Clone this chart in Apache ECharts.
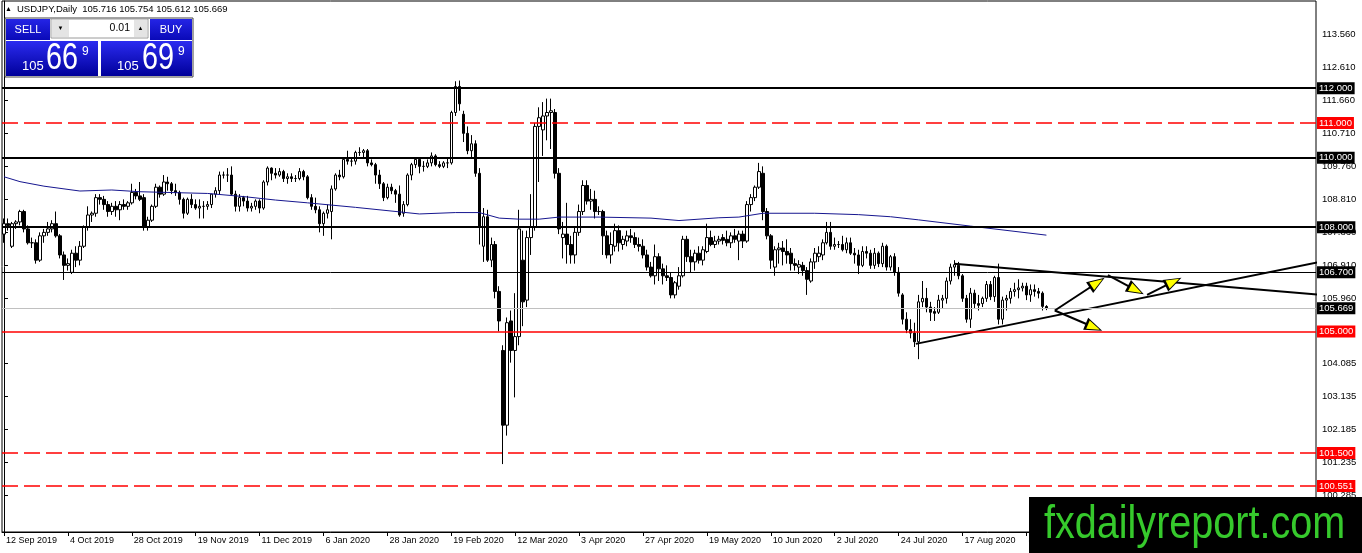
<!DOCTYPE html>
<html><head><meta charset="utf-8">
<script src="https://cdn.jsdelivr.net/npm/echarts@6/dist/echarts.min.js"></script>
<style>html,body{margin:0;padding:0;background:#fff}#c{width:1362px;height:553px}</style>
</head><body><div id="c"></div>
<script>
// ---- OHLC rows: [open, high, low, close] ----
const sep2019 = [[107.80,108.25,107.55,108.10],[108.10,108.25,107.90,108.05],[107.45,108.15,107.40,108.10],[108.10,108.20,107.95,108.15],[108.15,108.50,108.05,108.45],[108.45,108.50,107.85,107.95],[107.95,108.05,107.50,107.55],[107.55,107.70,107.40,107.55],[107.55,107.65,106.95,107.05],[107.05,107.85,107.00,107.75],[107.75,107.95,107.55,107.85],[107.85,108.15,107.75,107.95],[107.95,108.20,107.85,108.10]];
const oct2019 = [[108.10,108.45,107.70,107.75],[107.75,107.80,107.10,107.20],[107.20,107.30,106.48,106.90],[106.90,107.10,106.75,106.95],[106.70,107.35,106.65,107.25],[107.25,107.45,106.85,107.05],[107.05,107.60,106.90,107.45],[107.45,108.05,107.40,108.00],[108.00,108.60,107.90,108.35],[108.35,108.45,108.15,108.40],[108.40,108.95,108.30,108.85],[108.85,108.95,108.65,108.80],[108.80,108.90,108.50,108.65],[108.65,108.75,108.30,108.45],[108.45,108.70,108.35,108.60],[108.60,108.75,108.30,108.50],[108.50,108.75,108.20,108.65],[108.65,108.80,108.50,108.60],[108.60,108.75,108.50,108.70],[108.70,109.25,108.65,109.00],[109.00,109.10,108.80,108.90],[108.90,109.30,108.75,108.80],[108.85,108.95,107.90,108.00]];
const nov2019 = [[108.00,108.30,107.90,108.20],[108.20,108.65,108.15,108.60],[108.60,109.25,108.55,109.15],[109.15,109.20,108.85,108.95],[108.95,109.50,108.90,109.30],[109.30,109.45,109.05,109.25],[109.25,109.30,108.95,109.05],[109.05,109.25,108.90,109.00],[109.00,109.05,108.65,108.80],[108.80,108.85,108.25,108.40],[108.40,108.85,108.35,108.80],[108.80,108.95,108.55,108.65],[108.65,108.80,108.50,108.55],[108.55,108.80,108.25,108.60],[108.60,108.75,108.25,108.60],[108.60,108.75,108.50,108.65],[108.65,108.95,108.55,108.95],[108.95,109.15,108.85,109.05],[109.05,109.60,108.95,109.50],[109.50,109.60,109.40,109.50],[109.50,109.70,109.30,109.50]];
const dec2019 = [[109.50,109.75,108.90,108.95],[108.95,109.05,108.45,108.60],[108.60,108.95,108.45,108.85],[108.85,108.90,108.60,108.75],[108.75,108.90,108.45,108.55],[108.55,108.70,108.45,108.60],[108.60,108.80,108.50,108.75],[108.75,108.80,108.40,108.55],[108.55,109.35,108.50,109.30],[109.30,109.75,109.20,109.70],[109.70,109.72,109.35,109.55],[109.55,109.70,109.40,109.50],[109.50,109.70,109.45,109.60],[109.60,109.65,109.30,109.40],[109.40,109.55,109.25,109.45],[109.45,109.55,109.30,109.40],[109.40,109.50,109.30,109.40],[109.40,109.70,109.35,109.60],[109.60,109.65,109.35,109.45],[109.45,109.50,108.80,108.85],[108.85,108.95,108.50,108.60]];
const jan2020 = [[108.60,108.85,108.40,108.50],[108.50,108.60,107.85,108.10],[108.10,108.45,107.75,108.40],[108.40,108.65,108.25,108.50],[108.45,109.20,107.65,109.10],[109.10,109.55,109.05,109.50],[109.50,109.65,109.35,109.45],[109.45,110.00,109.40,109.95],[109.95,110.20,109.80,109.90],[109.90,110.00,109.75,109.90],[109.90,110.20,109.80,110.15],[110.15,110.30,110.05,110.15],[110.15,110.25,110.00,110.20],[110.20,110.25,109.75,109.85],[109.85,109.95,109.75,109.80],[109.80,109.85,109.25,109.50],[109.50,109.65,109.10,109.25],[109.25,109.30,108.75,108.85],[108.85,109.25,108.80,109.15],[109.15,109.25,108.95,109.05],[109.05,109.10,108.70,108.95],[108.95,109.20,108.30,108.35]];
const feb2020 = [[108.40,108.75,108.30,108.65],[108.65,109.55,108.60,109.50],[109.50,109.85,109.35,109.80],[109.80,110.00,109.70,109.95],[109.95,110.00,109.55,109.75],[109.75,109.90,109.60,109.75],[109.75,109.95,109.70,109.85],[109.85,110.15,109.75,110.05],[110.05,110.10,109.75,109.80],[109.80,109.90,109.70,109.75],[109.75,109.90,109.70,109.85],[109.85,110.00,109.70,109.85],[109.85,111.35,109.80,111.30],[111.30,112.20,111.20,112.05],[112.05,112.22,111.35,111.55],[111.25,111.35,110.45,110.70],[110.70,110.90,110.10,110.20],[110.20,110.65,110.00,110.40],[110.40,110.50,109.45,109.55],[109.55,109.70,107.50,108.00]];
const mar2020 = [[107.45,108.55,107.00,108.30],[108.30,108.50,107.00,107.05],[107.05,107.70,106.85,107.50],[107.50,107.60,105.95,106.15],[106.15,106.30,105.00,105.30],[104.45,104.60,101.18,102.30],[102.30,105.40,102.00,105.25],[105.30,105.60,104.10,104.45],[104.45,106.10,103.10,104.85],[104.85,108.50,104.60,107.95],[107.05,107.90,105.15,105.85],[105.90,107.90,105.70,107.70],[107.70,108.95,107.20,108.00],[108.00,111.00,107.90,110.90],[110.90,111.45,109.30,111.15],[110.80,111.60,110.05,111.20],[111.20,111.70,110.50,111.30],[111.30,111.70,110.25,111.35],[111.30,111.40,109.40,109.55],[109.55,109.70,107.80,107.95],[107.70,108.15,107.10,107.80],[107.80,108.70,106.95,107.50]];
const apr2020 = [[107.50,107.75,106.95,107.20],[107.20,108.00,106.95,107.85],[107.85,108.65,107.75,108.45],[108.45,109.35,108.35,109.20],[109.20,109.35,108.65,108.75],[108.75,109.10,108.50,108.80],[108.80,109.05,108.25,108.45],[108.45,108.60,108.35,108.45],[108.45,108.50,107.20,107.75],[107.75,107.90,107.10,107.20],[107.20,107.85,106.95,107.50],[107.45,108.10,107.30,107.90],[107.90,108.05,107.30,107.55],[107.50,107.75,107.35,107.65],[107.60,107.90,107.45,107.75],[107.75,107.95,107.55,107.70],[107.70,107.85,107.40,107.50],[107.50,107.70,107.30,107.45],[107.45,107.65,107.10,107.20],[107.20,107.35,106.75,106.85],[106.85,107.00,106.55,106.60],[106.60,107.50,106.35,107.15]];
const may2020 = [[107.15,107.25,106.45,106.80],[106.80,106.95,106.35,106.60],[106.60,106.90,106.45,106.55],[106.55,106.70,105.95,106.05],[106.05,106.45,105.95,106.40],[106.30,106.85,106.20,106.60],[106.60,107.75,106.55,107.65],[107.65,107.75,107.00,107.15],[107.15,107.35,106.70,107.00],[107.00,107.35,106.75,107.25],[107.25,107.45,106.95,107.05],[107.05,107.45,106.90,107.35],[107.30,108.10,107.25,107.70],[107.70,107.90,107.45,107.50],[107.50,107.75,107.40,107.60],[107.60,107.75,107.50,107.65],[107.70,107.80,107.50,107.62],[107.65,107.90,107.45,107.55],[107.55,107.85,107.40,107.75],[107.75,107.95,107.55,107.65],[107.60,107.90,107.05,107.80]];
const jun2020 = [[107.80,107.90,107.40,107.60],[107.60,108.75,107.55,108.65],[108.65,108.95,108.45,108.85],[108.85,109.20,108.75,109.15],[109.15,109.85,109.10,109.60],[109.55,109.75,108.20,108.45],[108.45,108.55,107.65,107.75],[107.75,107.80,106.80,107.05],[106.85,107.45,106.60,107.35],[107.35,107.55,106.95,107.40],[107.40,107.60,106.90,107.30],[107.30,107.65,106.95,107.20],[107.25,107.40,106.75,106.95],[106.95,107.10,106.75,106.90],[106.85,107.05,106.65,106.92],[106.90,107.00,106.60,106.75],[106.75,106.85,106.05,106.50],[106.45,107.10,106.40,107.00],[107.00,107.40,106.80,107.25],[107.15,107.45,107.00,107.25],[107.20,107.65,107.05,107.55],[107.55,108.15,107.50,107.85]];
const jul2020 = [[107.85,108.15,107.35,107.45],[107.45,107.70,107.35,107.50],[107.50,107.60,107.40,107.50],[107.50,107.75,107.30,107.35],[107.35,107.70,107.25,107.55],[107.55,107.70,107.20,107.25],[107.25,107.40,106.95,107.20],[107.20,107.35,106.65,106.90],[106.90,107.45,106.85,107.30],[107.30,107.45,107.10,107.25],[107.25,107.35,106.80,106.90],[106.90,107.40,106.80,107.25],[107.25,107.30,106.85,106.95],[106.95,107.55,106.85,107.45],[107.45,107.50,106.75,106.85],[106.85,107.20,106.75,107.15],[107.15,107.25,106.60,106.70],[106.70,106.85,106.00,106.10],[106.05,106.10,105.20,105.35],[105.35,105.55,104.95,105.05],[105.05,105.35,104.80,104.95],[104.95,105.25,104.55,104.70],[104.70,106.05,104.20,105.85]];
const aug2020 = [[105.85,106.45,105.70,105.95],[105.95,106.25,105.55,105.70],[105.70,105.85,105.30,105.55],[105.57,105.70,105.30,105.52],[105.55,106.05,105.50,105.90],[105.90,106.05,105.65,105.95],[105.95,106.55,105.80,106.45],[106.45,106.95,106.35,106.85],[106.85,107.05,106.60,106.92],[106.90,107.00,106.50,106.60],[106.60,106.65,105.85,105.95],[105.95,106.05,105.25,105.35],[105.35,106.25,105.10,106.10],[106.10,106.20,105.65,105.80],[105.80,106.05,105.60,105.75],[105.80,106.00,105.70,105.95],[105.95,106.45,105.85,106.35],[106.35,106.45,105.90,106.00],[106.00,106.60,105.85,106.55],[106.55,106.95,105.20,105.35],[105.35,106.00,105.20,105.90]];
const sep2020 = [[105.90,106.05,105.60,105.95],[105.95,106.25,105.80,106.15],[106.15,106.40,106.00,106.20],[106.20,106.50,105.95,106.25],[106.25,106.40,106.15,106.30],[106.30,106.40,105.90,106.05],[106.05,106.35,105.85,106.20],[106.20,106.35,106.00,106.15],[106.15,106.25,105.95,106.10],[106.10,106.15,105.60,105.72],[105.716,105.754,105.612,105.669]];

// 200-bar moving average: [bar index, value]
const maPoints = [[0,109.45],[4,109.31],[10,109.18],[19,109.04],[27,109.07],[34,109.02],[44,108.99],[51,108.97],[60,108.88],[68,108.78],[76,108.70],[88,108.57],[99,108.44],[104,108.38],[113,108.42],[119,108.42],[124,108.26],[129,108.23],[134,108.23],[139,108.29],[149,108.29],[162,108.26],[169,108.19],[179,108.27],[184,108.29],[190,108.40],[203,108.40],[214,108.36],[222,108.30],[229,108.21],[242,108.03],[261,107.77]];

// tick labels
const xTickLabels = ['12 Sep 2019','4 Oct 2019','28 Oct 2019','19 Nov 2019','11 Dec 2019','6 Jan 2020','28 Jan 2020','19 Feb 2020','12 Mar 2020','3 Apr 2020','27 Apr 2020','19 May 2020','10 Jun 2020','2 Jul 2020','24 Jul 2020','17 Aug 2020','8 Sep 2020'];
const yTickLabels = ['113.560','112.610','111.660','110.710','109.760','108.810','107.860','106.910','105.960','104.085','103.135','102.185','101.235','100.285'];

// horizontal levels
const thickBlackLevels = [112.000, 110.000, 108.000];
const thinBlackLevels = [106.700];
const redSolidLevels = [105.000];
const redDashedLevels = [111.000, 101.500, 100.551];
const currentPrice = [105.669];

// trend lines and arrows: [bar index, price]
const trendUpper = [[237.9,106.95],[341,105.94]];
const trendLower = [[228.3,104.64],[341,107.27]];
const arrowSegments = [
  [[263.1,105.60],[273.7,106.40]],
  [[276.4,106.62],[283.4,106.19]],
  [[286.2,106.05],[292.8,106.43]],
  [[263.1,105.60],[272.9,105.12]]
];

const headerText = 'USDJPY,Daily  105.716 105.754 105.612 105.669';
const sellQuote = ['105','66','9'];
const buyQuote = ['105','69','9'];
const lotText = '0.01';
const watermarkText = 'fxdailyreport.com';

// ---- categories (trading days, plus empty right shift) ----
const startDay = [2019, 8, 12];
const skipDays = ['2019-12-25','2020-01-01'];
const slotCount = 329;
const categories = [];
for (let d = new Date(Date.UTC(startDay[0], startDay[1], startDay[2])); categories.length < slotCount; d.setUTCDate(d.getUTCDate() + 1)) {
  const wd = d.getUTCDay();
  if (wd === 0 || wd === 6) continue;
  const s = d.toISOString().slice(0, 10);
  if (skipDays.includes(s)) continue;
  categories.push(s);
}

const rows = [].concat(sep2019, oct2019, nov2019, dec2019, jan2020, feb2020, mar2020, apr2020, may2020, jun2020, jul2020, aug2020, sep2020);
const candleData = rows.map(r => [r[0], r[3], r[2], r[1]]);

const FONT = 'Liberation Sans, Arial, sans-serif';

function levelSeries(name, values, color, width, type, bg, z) {
  return {
    type: 'line', name: name, data: [], silent: true, z: z,
    markLine: {
      silent: true, symbol: 'none', animation: false, precision: 3,
      lineStyle: { color: color, width: width, type: type, opacity: 1 },
      data: values.map(v => ({
        yAxis: v,
        label: {
          show: true, position: 'end', distance: 1,
          formatter: () => v.toFixed(3),
          color: '#fff', backgroundColor: bg, padding: [1, 2, 0, 2],
          fontSize: 9.5, fontFamily: FONT, lineHeight: 11
        }
      }))
    }
  };
}

const arrowLines = arrowSegments.map(s => [{ coord: s[0] }, { coord: s[1] }]);

const blueGrad = () => new echarts.graphic.LinearGradient(0, 0, 0, 1, [{offset: 0, color: '#2b2bf0'}, {offset: 1, color: '#00009a'}]);
const btnGrad = () => new echarts.graphic.LinearGradient(0, 0, 0, 1, [{offset: 0, color: '#2424e6'}, {offset: 1, color: '#0a0ab8'}]);

function txt(x, y, text, size, color, align, extra) {
  return Object.assign({ type: 'text', x: x, y: y, z: 100, silent: true,
    style: { text: text, fontSize: size, fontFamily: FONT, fill: color, align: align || 'left', verticalAlign: 'middle' } }, extra || {});
}
function rect(x, y, w, h, fill, stroke) {
  return { type: 'rect', z: 99, silent: true, shape: { x: x, y: y, width: w, height: h },
    style: { fill: fill, stroke: stroke || null, lineWidth: stroke ? 1 : 0 } };
}

const graphics = [
  txt(5, 9, '\u25B2', 7, '#000'),
  txt(17, 9, headerText, 9.5, '#000'),
  rect(5, 18, 188, 59, '#fff', '#444'),
  rect(6, 19, 44, 21, btnGrad()),
  txt(28, 29.5, 'SELL', 11, '#fff', 'center'),
  rect(51, 19, 97, 19, '#fff', '#9a9a9a'),
  rect(52, 20, 17, 17, '#e4e4e4'),
  txt(60.5, 28.5, '\u25BC', 6, '#000', 'center'),
  txt(130, 28.5, lotText, 10.5, '#000', 'right'),
  rect(134, 20, 13, 17, '#e4e4e4'),
  txt(140.5, 28.5, '\u25B2', 6, '#000', 'center'),
  rect(150, 19, 42, 21, btnGrad()),
  txt(171, 29.5, 'BUY', 11, '#fff', 'center'),
  rect(6, 41, 92, 35, blueGrad()),
  rect(101, 41, 91, 35, blueGrad()),
  txt(22, 66.5, sellQuote[0], 13, '#fff'),
  txt(46, 59, sellQuote[1], 36, '#fff', 'left', { scaleX: 0.8 }),
  txt(82, 51.5, sellQuote[2], 12, '#fff'),
  txt(117, 66.5, buyQuote[0], 13, '#fff'),
  txt(142, 59, buyQuote[1], 36, '#fff', 'left', { scaleX: 0.8 }),
  txt(178, 51.5, buyQuote[2], 12, '#fff'),
  rect(1029, 497, 333, 56, '#000'),
  txt(1044, 525, watermarkText, 46, '#36c92c', 'left', { scaleX: 0.86 })
];

const chart = echarts.init(document.getElementById('c'), null, { renderer: 'canvas' });
chart.setOption({
  animation: false,
  backgroundColor: '#fff',
  textStyle: { fontFamily: FONT },
  grid: { left: 2, right: 46, top: 1, bottom: 21, show: true, borderColor: '#000', borderWidth: 1, backgroundColor: '#fff' },
  xAxis: [{
    type: 'category', data: categories, boundaryGap: true,
    axisLine: { lineStyle: { color: '#000', width: 1 } },
    axisTick: { show: true, interval: 15, alignWithLabel: true, length: 4, lineStyle: { color: '#000' } },
    axisLabel: { interval: 15, align: 'left', margin: 4, color: '#000', fontSize: 9, fontFamily: FONT, padding: [0, 0, 0, 2],
      formatter: (val, idx) => (idx % 16 === 0 && xTickLabels[idx / 16]) ? xTickLabels[idx / 16] : '' },
    splitLine: { show: false }
  }, {
    type: 'value', min: -0.5, max: slotCount - 0.5, show: false
  }],
  yAxis: {
    type: 'value', position: 'right', min: 99.225, max: 114.51, scale: true,
    axisLine: { show: true, lineStyle: { color: '#000' } },
    axisTick: { show: true, length: 4, lineStyle: { color: '#000' }, customValues: yTickLabels.map(Number) },
    axisLabel: { margin: 6, color: '#000', fontSize: 9.5, fontFamily: FONT, customValues: yTickLabels.map(Number),
      formatter: v => Number(v).toFixed(3) },
    splitLine: { show: false }
  },
  series: [
    levelSeries('levelsDashed', redDashedLevels, '#ff0000', 1.5, [16, 6], '#ff0000', 1),
    levelSeries('levelsRed', redSolidLevels, '#ff0000', 1.5, 'solid', '#ff0000', 1),
    levelSeries('levelsPrice', currentPrice, '#c0c0c0', 1, 'solid', '#000', 1),
    levelSeries('levelsThin', thinBlackLevels, '#000', 1, 'solid', '#000', 1),
    levelSeries('levelsThick', thickBlackLevels, '#000', 2, 'solid', '#000', 1),
  {
    type: 'candlestick', name: 'USDJPY', data: candleData, barWidth: 3, z: 2,
    itemStyle: { color: '#fff', color0: '#000', borderColor: '#000', borderColor0: '#000', borderWidth: 1 },
    emphasis: { disabled: true }
  }, {
    type: 'line', name: 'MA', xAxisIndex: 1, data: maPoints, symbol: 'none', smooth: false,
    lineStyle: { color: '#16168f', width: 1 }, silent: true, z: 3
  }, {
    type: 'line', name: 'trendUpper', xAxisIndex: 1, data: trendUpper, symbol: 'none', clip: false,
    lineStyle: { color: '#000', width: 2 }, silent: true, z: 4
  }, {
    type: 'line', name: 'trendLower', xAxisIndex: 1, data: trendLower, symbol: 'none', clip: false,
    lineStyle: { color: '#000', width: 2 }, silent: true, z: 4,
    markLine: { silent: true, animation: false, symbol: ['none', 'triangle'], symbolSize: [13, 18],
      lineStyle: { color: '#000', width: 2, type: 'solid' }, label: { show: false }, data: arrowLines }
  }, {
    type: 'line', name: 'arrowHeads', xAxisIndex: 1, data: [], symbol: 'none', silent: true, z: 5,
    markLine: { silent: true, animation: false, symbol: ['none', 'triangle'], symbolSize: [9, 13],
      lineStyle: { color: '#ffff00', width: 0, type: 'solid' }, label: { show: false }, data: arrowLines }
  }],
  graphic: graphics
});
</script>
</body></html>
